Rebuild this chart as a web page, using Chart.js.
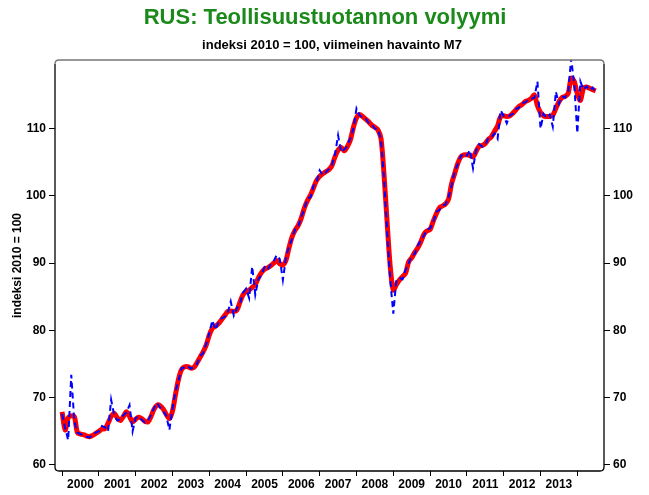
<!DOCTYPE html>
<html>
<head>
<meta charset="utf-8">
<script src="https://cdn.jsdelivr.net/npm/chart.js@4"></script>
<style>
  html, body { margin: 0; padding: 0; background: #fff; }
  #wrap { width: 649px; height: 495px; }
</style>
</head>
<body>
<div id="wrap"><canvas id="myChart" width="649" height="495"></canvas></div>
<script>

// DONNEES //

// months counted from January 2000 (0) to July 2014 (174)
const years = ['2000', '2001', '2002', '2003', '2004', '2005', '2006', '2007',
  '2008', '2009', '2010', '2011', '2012', '2013'];

const trend = [
  67.9, 65.2, 67.0, 67.3, 67.2, 64.8, 64.6, 64.5, 64.3, 64.2, 64.4, 64.7,
  65.0, 65.3, 65.4, 66.2, 67.2, 67.7, 67.0, 66.6, 67.2, 67.9, 67.2, 66.4,
  66.8, 67.1, 66.9, 66.5, 66.4, 67.2, 68.3, 68.9, 68.8, 68.3, 67.5, 66.9,
  68.0, 70.5, 72.8, 74.2, 74.6, 74.6, 74.4, 74.5, 75.2, 76.0, 76.8, 77.8,
  79.3, 80.3, 80.6, 81.0, 81.6, 82.2, 82.8, 82.9, 82.8, 83.0, 84.2, 85.3,
  85.8, 86.0, 86.4, 86.8, 87.8, 88.6, 89.1, 89.3, 89.6, 90.0, 90.4, 89.9,
  89.7, 90.4, 92.3, 93.9, 94.9, 95.6, 96.7, 98.2, 99.3, 100.1, 101.2, 102.3,
  102.9, 103.3, 103.6, 103.9, 104.5, 105.8, 106.8, 107.2, 106.7, 107.3, 108.3, 110.2,
  111.6, 112.1, 111.8, 111.4, 111.0, 110.5, 110.2, 109.8, 108.5, 103.0, 96.0, 89.5,
  86.0, 86.8, 87.5, 88.0, 88.5, 90.2, 90.8, 91.6, 92.3, 93.2, 94.3, 94.8,
  95.0, 96.2, 97.3, 98.2, 98.5, 98.8, 99.5, 101.8, 103.3, 104.8, 105.8, 106.1,
  106.1, 106.0, 105.8, 106.6, 107.4, 107.5, 107.8, 108.4, 108.8, 109.6, 110.4, 111.8,
  111.9, 111.8, 111.9, 112.3, 112.8, 113.3, 113.6, 114.0, 114.2, 114.5, 115.0, 113.4,
  112.4, 111.9, 111.8, 111.8, 112.0, 113.0, 114.0, 114.6, 114.8, 115.2, 117.5, 117.0,
  115.2, 114.2, 116.0, 116.2, 116.0, 115.8, 115.6
];

const adjusted = [
  67.6, 65.5, 63.7, 73.4, 66.5, 64.8, 64.6, 64.4, 64.2, 64.1, 64.5, 64.8,
  65.0, 65.8, 65.6, 65.0, 69.7, 67.4, 66.6, 66.8, 67.4, 67.8, 68.9, 65.0,
  67.0, 67.2, 66.7, 66.3, 66.6, 67.4, 68.5, 69.2, 68.5, 68.0, 67.3, 65.2,
  68.4, 71.0, 72.6, 74.4, 74.5, 74.7, 74.3, 74.6, 75.0, 76.2, 76.6, 78.0,
  79.6, 81.5, 80.1, 81.2, 81.8, 82.0, 82.6, 84.3, 82.2, 83.3, 84.0, 85.6,
  86.2, 84.8, 89.5, 85.3, 87.6, 88.3, 89.4, 89.0, 89.8, 90.3, 91.2, 90.6,
  87.5, 90.8, 92.5, 93.6, 95.1, 95.4, 96.9, 98.0, 99.6, 99.8, 101.5, 102.1,
  103.8, 103.1, 103.5, 104.0, 104.6, 106.2, 109.0, 106.5, 106.9, 107.4, 108.6, 110.0,
  113.0, 112.0, 111.6, 111.5, 110.8, 110.6, 110.0, 109.9, 108.3, 102.5, 94.5, 87.5,
  82.5, 87.5, 87.8, 87.6, 89.0, 90.0, 91.0, 91.4, 92.6, 93.4, 94.1, 95.0,
  95.2, 96.0, 97.6, 97.9, 98.6, 98.7, 99.8, 101.5, 103.6, 104.7, 105.9, 106.3,
  106.0, 106.8, 104.1, 106.8, 107.7, 107.3, 107.6, 108.6, 108.7, 109.3, 108.5, 112.7,
  111.9, 110.8, 112.0, 112.2, 112.9, 113.1, 113.8, 113.9, 114.3, 114.4, 114.6, 117.0,
  110.0, 112.2, 111.6, 112.1, 110.3, 115.5, 113.7, 114.8, 114.6, 115.4, 120.4, 116.6,
  109.3, 117.0, 115.8, 116.3, 115.7, 116.1, 115.4
];

const yTicks = [60, 70, 80, 90, 100, 110];

const toPoints = (arr) => arr.map((v, i) => ({ x: i, y: v }));


// TEXTES ET CADRE //

const FONT = "'Liberation Sans', Arial, sans-serif";

const decor = {
  id: 'decor',
  afterDraw(chart) {
    const c = chart.ctx;
    const a = chart.chartArea;
    c.save();
    c.textAlign = 'center';
    c.textBaseline = 'middle';
    c.fillStyle = '#1b8a1b';
    c.font = 'bold 22px ' + FONT;
    c.fillText('RUS: Teollisuustuotannon volyymi', 325, 18);
    c.fillStyle = '#000';
    c.font = 'bold 13px ' + FONT;
    c.fillText('indeksi 2010 = 100, viimeinen havainto M7', 332, 45);

    c.translate(18, (a.top + a.bottom) / 2);
    c.rotate(-Math.PI / 2);
    c.font = 'bold 12px ' + FONT;
    c.fillText('indeksi 2010 = 100', 0, 0);
    c.restore();

    // cadre
    const r = 4;
    c.save();
    c.lineWidth = 1.3;
    c.strokeStyle = '#000';
    c.beginPath();
    c.moveTo(a.left, a.top + r);
    c.lineTo(a.left, a.bottom - r);
    c.quadraticCurveTo(a.left, a.bottom, a.left + r, a.bottom);
    c.lineTo(a.right - r, a.bottom);
    c.quadraticCurveTo(a.right, a.bottom, a.right, a.bottom - r);
    c.lineTo(a.right, a.top + r);
    c.stroke();
    c.strokeStyle = '#777';
    c.beginPath();
    c.moveTo(a.left, a.top + r);
    c.quadraticCurveTo(a.left, a.top, a.left + r, a.top);
    c.lineTo(a.right - r, a.top);
    c.quadraticCurveTo(a.right, a.top, a.right, a.top + r);
    c.stroke();
    c.restore();
  }
};


// GRAPHIQUE //

const ctx = document.getElementById('myChart');

const yAxis = (pos, width) => ({
  type: 'linear',
  position: pos,
  min: 59.1,
  max: 120.2,
  afterFit: (s) => { s.width = width; },
  afterBuildTicks: (s) => { s.ticks = yTicks.map(v => ({ value: v })); },
  border: { display: false },
  grid: { drawOnChartArea: false, tickLength: 6, tickColor: '#000', tickWidth: 1 },
  ticks: {
    color: '#000',
    padding: 3,
    font: { family: FONT, size: 12, weight: 'bold' }
  }
});

new Chart(ctx, {
  type: 'line',
  data: {
    datasets: [
      {
        label: 'kausitasoitettu',
        data: toPoints(adjusted),
        borderColor: '#0000ff',
        borderWidth: 2,
        borderDash: [6, 4],
        pointRadius: 0,
        tension: 0,
        order: 0,
        yAxisID: 'y'
      },
      {
        label: 'trendi',
        data: toPoints(trend),
        borderColor: '#ff0000',
        borderWidth: 5,
        pointRadius: 0,
        tension: 0.3,
        order: 1,
        yAxisID: 'y'
      }
    ]
  },
  options: {
    responsive: false,
    animation: false,
    events: [],
    layout: { padding: { top: 60, left: 0, right: 0, bottom: 0 } },
    plugins: {
      legend: false,
      title: { display: false },
      tooltip: { enabled: false }
    },
    scales: {
      x: {
        type: 'linear',
        min: -2.3,
        max: 176.7,
        afterFit: (s) => { s.height = 24; },
        afterBuildTicks: (s) => {
          s.ticks = years.concat(['2014']).map((y, i) => ({ value: i * 12 }));
        },
        border: { display: false },
        grid: { drawOnChartArea: false, tickLength: 5, tickColor: '#000' },
        ticks: {
          color: '#000',
          autoSkip: false,
          maxRotation: 0,
          padding: 1,
          labelOffset: 18.4,
          font: { family: FONT, size: 12, weight: 'bold' },
          callback: (v) => years[Math.round(v / 12)] || ''
        }
      },
      y: yAxis('left', 55),
      y2: yAxis('right', 45)
    }
  },
  plugins: [decor]
});

</script>
</body>
</html>
